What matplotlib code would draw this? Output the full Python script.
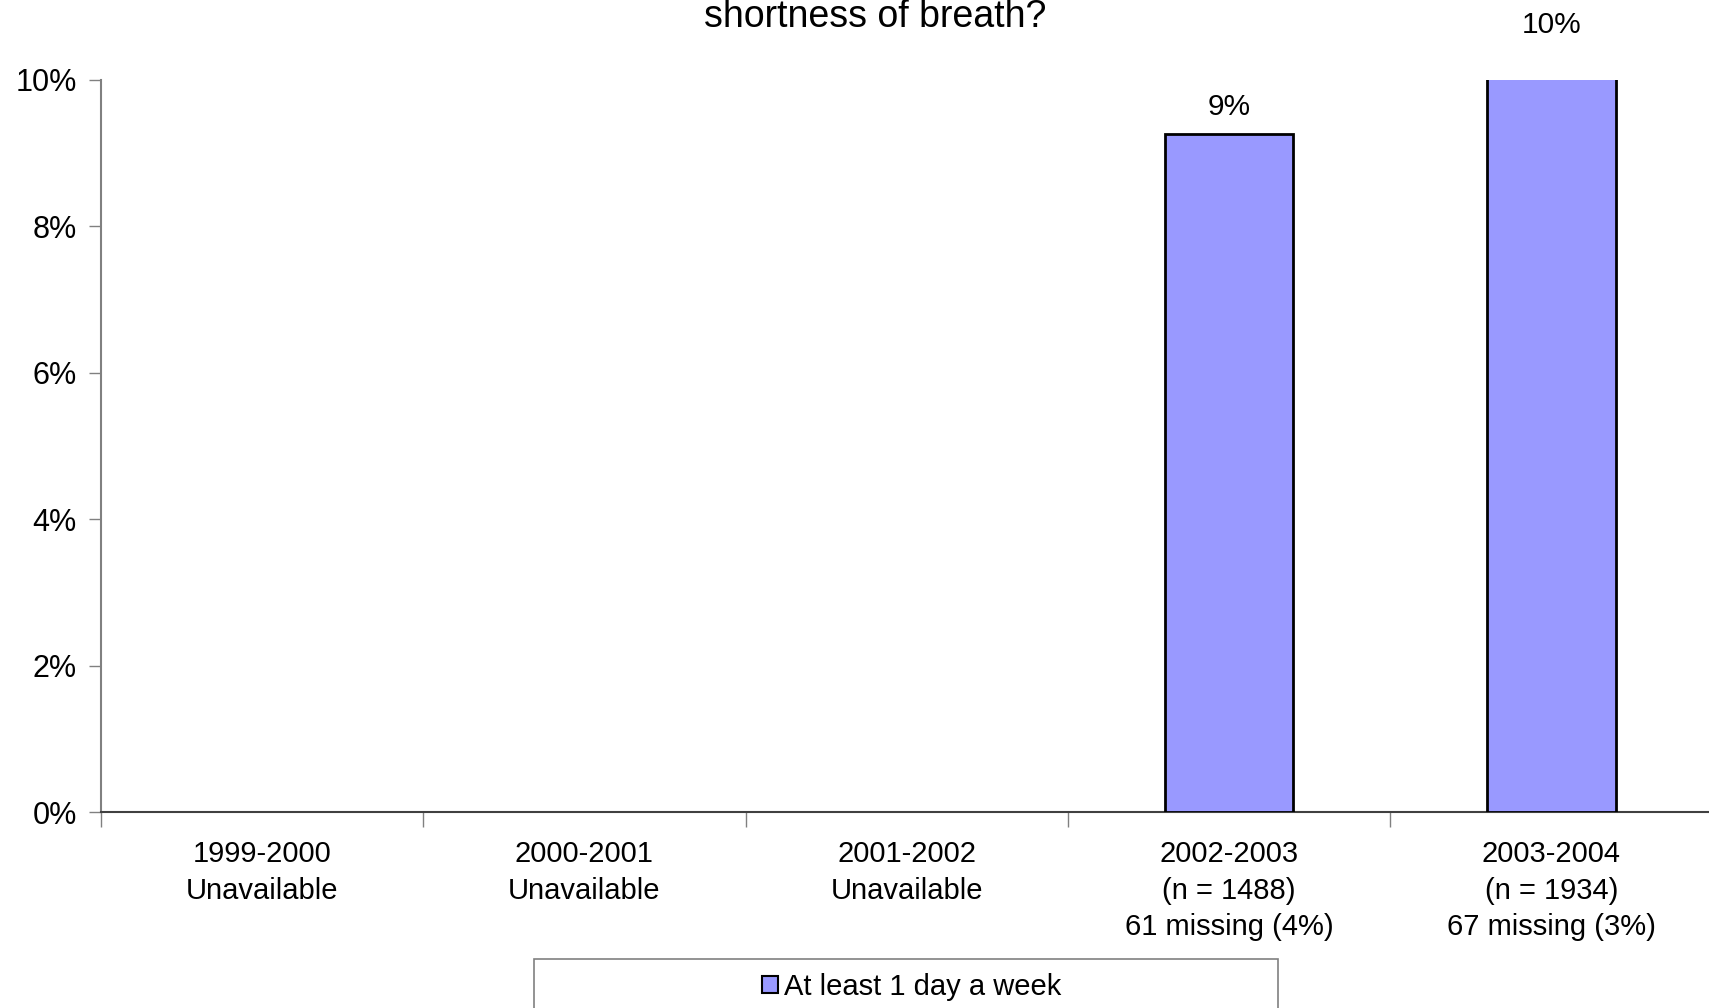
import numpy as np
import matplotlib
matplotlib.use("Agg")
import matplotlib.pyplot as plt
from matplotlib.patches import Rectangle, Patch

plt.rcParams['font.family'] = ['Liberation Sans', 'DejaVu Sans']

categories = ["1999-2000\nUnavailable", "2000-2001\nUnavailable", "2001-2002\nUnavailable",
              "2002-2003\n(n = 1488)\n61 missing (4%)", "2003-2004\n(n = 1934)\n67 missing (3%)"]
values = [np.nan, np.nan, np.nan, 9.26, 10.37]
value_labels = ["", "", "", "9%", "10%"]
yticks = [0, 2, 4, 6, 8, 10]
ytick_labels = ["0%", "2%", "4%", "6%", "8%", "10%"]
series_name = "At least 1 day a week"
title_visible = "shortness of breath?"

W, H = 1709, 1008
fig = plt.figure(figsize=(W / 100, H / 100), dpi=100)
ax = fig.add_axes([101 / W, (H - 812) / H, 1 - 101 / W + 0.002, (812 - 79.6) / H])

x = np.arange(len(categories))
bars = ax.bar(x, values, width=0.40, color='#9999FF', edgecolor='black', linewidth=2, zorder=3)
for xi, v, lab in zip(x, values, value_labels):
    if lab and not np.isnan(v):
        ax.annotate(lab, (xi, v), xytext=(0, 19.6), textcoords='offset points',
                    ha='center', va='center', fontsize=21.5, annotation_clip=False)

ax.set_xlim(-0.5, 4.5)
ax.set_ylim(0, 10)
ax.set_yticks(yticks)
ax.set_yticklabels(ytick_labels, fontsize=22)
ax.set_xticks(x)
ax.set_xticklabels(categories, fontsize=21, linespacing=1.38)
ax.set_xticks(np.arange(-0.5, 4.0, 1.0), minor=True)
ax.tick_params(axis='x', which='major', length=0, pad=20.5)
ax.tick_params(axis='x', which='minor', length=11, width=1, color='#808080', direction='out')
ax.tick_params(axis='y', length=9, width=1, color='#808080', pad=8.5)

for s in ['top', 'right']:
    ax.spines[s].set_visible(False)
ax.spines['left'].set_color('#808080')
ax.spines['left'].set_linewidth(1.5)
ax.spines['bottom'].set_color('#404040')
ax.spines['bottom'].set_linewidth(1.5)

fig.text(875 / W, (H - 27) / H, title_visible, ha='center', va='baseline', fontsize=27)

fig.patches.append(Rectangle((534 / W, -0.02), (1278 - 534) / W, 0.02 + (H - 959) / H,
                             transform=fig.transFigure, facecolor='white',
                             edgecolor='#808080', linewidth=1.2))
handle = Patch(facecolor='#9999FF', edgecolor='black', linewidth=1.5)
fig.legend([handle], [series_name], loc='center', bbox_to_anchor=(912 / W, (H - 987) / H),
           frameon=False, fontsize=21, handlelength=0.55, handleheight=0.55, handletextpad=0.2,
           borderpad=0, borderaxespad=0)

fig.savefig('out.png', dpi=100)
